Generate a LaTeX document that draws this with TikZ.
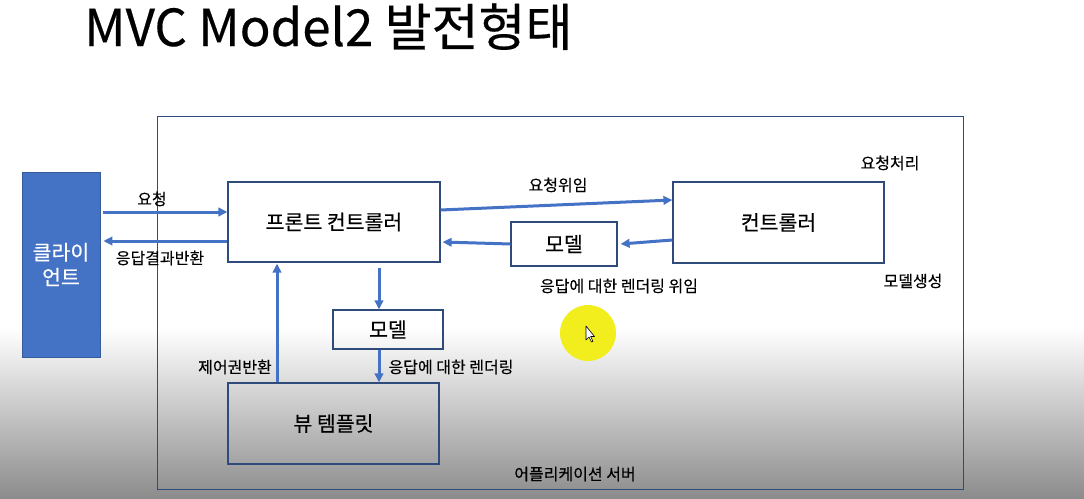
\documentclass[tikz,border=0pt]{standalone}
\usepackage{fontspec}
\setmainfont{Noto Sans CJK KR}[FakeBold=0.35]
\usetikzlibrary{arrows.meta}
\definecolor{cblue}{HTML}{4472C4}
\definecolor{cnavy}{HTML}{2F4B7C}
\definecolor{cursor}{RGB}{242,238,30}
\definecolor{shadebot}{RGB}{140,140,140}
\begin{document}
\begin{tikzpicture}[x=1pt,y=-1pt,
  box/.style={draw=cnavy,line width=1.2pt,inner sep=0pt,font=\fontsize{20.5}{24}\selectfont},
  arr/.style={draw=cblue,line width=3pt,-{Triangle[length=9pt,width=8.5pt]}},
  lbl/.style={font=\fontsize{16}{18}\selectfont,inner sep=0pt}]
\useasboundingbox (0,0) rectangle (1084,498);
\fill[white] (0,0) rectangle (1084,498);
\shade[top color=white,bottom color=shadebot] (0,328) rectangle (1084,498);
% title
\node[anchor=base west,inner sep=0pt,font=\fontsize{51}{56}\selectfont] (title) at (84,46) {MVC Model2 발전형태};
% outer application server box
\draw[cnavy,line width=1pt] (157,116) rectangle (963,489);
\node[lbl] (srv) at (575,474) {어플리케이션 서버};
% cursor highlight
\fill[cursor] (588,333) circle (28);
\draw[black,line width=0.6pt,fill=white,line join=round] (586,326) -- (586,340) -- (589,337) -- (591.5,342) -- (593,341.3) -- (590.6,336.5) -- (594.5,336.5) -- cycle;
% boxes
\node[fill=cblue,draw=cblue!80!black,line width=0.8pt,minimum width=78pt,minimum height=185pt,inner sep=0pt,
      text=white,align=center,font=\fontsize{20.5}{25}\selectfont] (client) at (61,264.5) {클라이\\언트};
\node[box,minimum width=212pt,minimum height=80pt] (front) at (334,222) {프론트 컨트롤러};
\node[box,minimum width=211pt,minimum height=81pt] (ctrl) at (778.5,222.5) {컨트롤러};
\node[box,minimum width=106pt,minimum height=44pt] (modelR) at (564,244) {모델};
\node[box,minimum width=110pt,minimum height=39pt] (modelM) at (388,329.5) {모델};
\node[box,minimum width=211pt,minimum height=81pt] (view) at (333.5,423.5) {뷰 템플릿};
% arrows
\draw[arr] ([xshift=3pt,yshift=52.5pt]client.east) -- ([yshift=10pt]front.west);
\draw[arr] ([yshift=-19pt]front.west) -- ([xshift=3pt,yshift=23.5pt]client.east);
\draw[arr] ([yshift=12pt]front.east) -- ([yshift=22.5pt]ctrl.west);
\draw[arr] ([yshift=-17.5pt]ctrl.west) -- ([xshift=3pt]modelR.east);
\draw[arr] (modelR.west) -- ([xshift=2pt,yshift=-20pt]front.east);
\draw[arr] ([xshift=45pt,yshift=-5pt]front.south) -- ([xshift=-9pt]modelM.north);
\draw[arr] ([xshift=-9pt]modelM.south) -- ([xshift=45.5pt]view.north);
\draw[arr] ([xshift=-56.5pt]view.north) -- ([xshift=-57pt,yshift=-1pt]front.south);
% labels
\node[lbl] (l1) at (152,199) {요청};
\node[lbl] (l2) at (160,258) {응답결과반환};
\node[lbl] (l3) at (558,185) {요청위임};
\node[lbl] (l4) at (619,286) {응답에 대한 렌더링 위임};
\node[lbl] (l5) at (890,163) {요청처리};
\node[lbl] (l6) at (913,281) {모델생성};
\node[lbl] (l7) at (235,367) {제어권반환};
\node[lbl] (l8) at (451,367) {응답에 대한 렌더링};
\end{tikzpicture}
\end{document}
